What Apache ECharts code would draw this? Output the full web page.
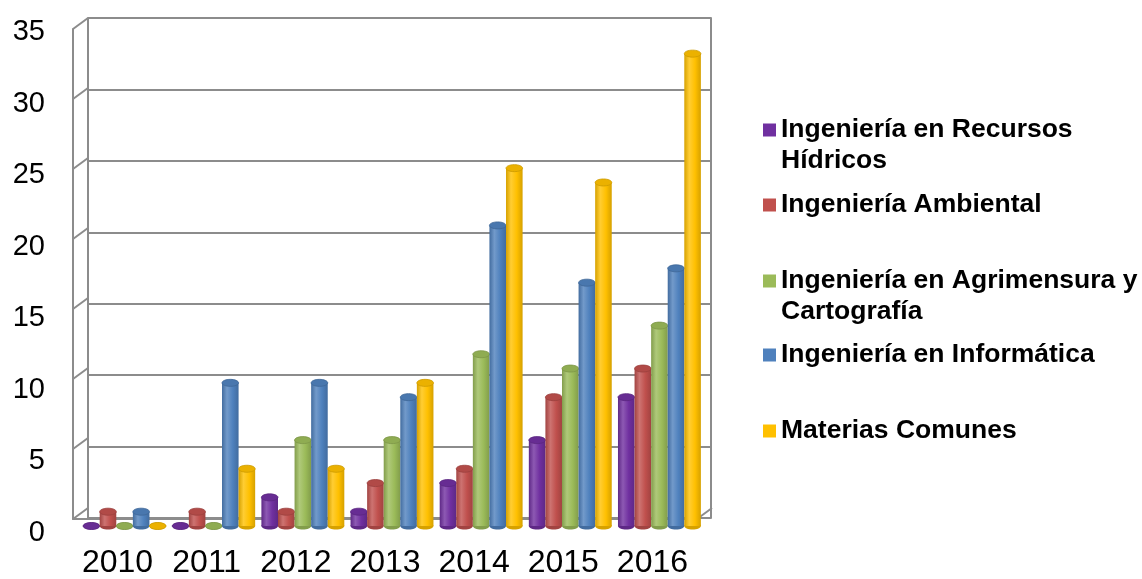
<!DOCTYPE html>
<html><head><meta charset="utf-8">
<script src="https://cdn.jsdelivr.net/npm/echarts@6/dist/echarts.min.js"></script>
<style>html,body{margin:0;padding:0;background:#fff}#c{width:1142px;height:579px}</style>
</head><body><div id="c"></div>
<script>
const years = ['2010','2011','2012','2013','2014','2015','2016'];
const seriesNames = ['Ingeniería en Recursos Hídricos','Ingeniería Ambiental','Ingeniería en Agrimensura y Cartografía','Ingeniería en Informática','Materias Comunes'];
const recursosHidricos = [0,0,2,1,3,6,9];
const ambiental = [1,1,1,3,4,9,11];
const agrimensura = [0,0,6,6,12,11,14];
const informatica = [1,10,10,9,21,17,18];
const materiasComunes = [0,4,4,10,25,24,33];
const yTicks = [0,5,10,15,20,25,30,35];
const legendLabels = ['\nIngeniería en Recursos\nHídricos','Ingeniería Ambiental','\nIngeniería en Agrimensura y\nCartografía','Ingeniería en Informática','Materias Comunes'];

const allValues = [recursosHidricos, ambiental, agrimensura, informatica, materiasComunes];
const colors = ['#7030A0','#C0504D','#9BBB59','#4F81BD','#FFC000'];
const FONT = "'Liberation Sans', Arial, sans-serif";
const GRAY = '#8c8c8c';

function shade(hex, f) {
  const n = parseInt(hex.slice(1), 16);
  let r = n >> 16, g = (n >> 8) & 255, b = n & 255;
  if (f < 0) { r = r * (1 + f); g = g * (1 + f); b = b * (1 + f); }
  else { r = r + (255 - r) * f; g = g + (255 - g) * f; b = b + (255 - b) * f; }
  return 'rgb(' + Math.round(r) + ',' + Math.round(g) + ',' + Math.round(b) + ')';
}

function makeBarRender(si) {
  const c = colors[si];
  const dark = shade(c, -0.16), light = shade(c, 0.2), mid = c;
  return function (params, api) {
    const cat = api.value(0), v = api.value(1);
    const top = api.coord([cat, v]);
    const base = api.coord([cat, 0]);
    const W = api.size([1, 0])[0];
    const gw = W * 0.93, bw = gw / 5;
    const cx = top[0] - gw / 2 + bw * (si + 0.5);
    const rx = bw / 2, ry = 3.5;
    const grad = {type: 'linear', x: 0, y: 0, x2: 1, y2: 0, colorStops: [
      {offset: 0, color: dark}, {offset: 0.3, color: light}, {offset: 0.65, color: mid}, {offset: 1, color: dark}]};
    return {type: 'group', children: [
      {type: 'ellipse', shape: {cx: cx, cy: base[1], rx: rx, ry: ry}, style: {fill: dark}},
      {type: 'rect', shape: {x: cx - rx, y: top[1], width: bw, height: Math.max(0, base[1] - top[1])}, style: {fill: grad}},
      {type: 'ellipse', shape: {cx: cx, cy: top[1], rx: rx, ry: ry}, style: {fill: shade(c, -0.08), stroke: shade(c, -0.2), lineWidth: 0.8}}
    ]};
  };
}

const series = [];
// back-wall / floor connectors on the front grid
series.push({
  type: 'custom', xAxisIndex: 1, yAxisIndex: 1, silent: true, clip: false, z: 1,
  data: yTicks.map(v => [0, v]),
  renderItem: function (params, api) {
    const y = api.coord([0, api.value(1)])[1];
    const x0 = params.coordSys.x;
    const kids = [{type: 'line', shape: {x1: x0, y1: y, x2: x0 + 15, y2: y - 11}, style: {stroke: GRAY, lineWidth: 2}}];
    if (api.value(1) === 0) {
      const x1 = params.coordSys.x + params.coordSys.width;
      kids.push({type: 'line', shape: {x1: x1, y1: y, x2: x1 + 15, y2: y - 11}, style: {stroke: GRAY, lineWidth: 2}});
    }
    return {type: 'group', children: kids};
  }
});
allValues.forEach((vals, si) => {
  series.push({
    name: seriesNames[si], type: 'custom', xAxisIndex: 2, yAxisIndex: 2, z: 5,
    itemStyle: {color: colors[si]},
    data: vals.map((v, i) => [i, v]),
    encode: {x: 0, y: 1},
    renderItem: makeBarRender(si)
  });
});

const legendTops = [83.5, 189.5, 234.5, 339.5, 415.5];
const legends = seriesNames.map((n, i) => ({
  data: [{name: n, icon: 'rect', itemStyle: {color: colors[i]}}],
  orient: 'vertical', left: 763, top: legendTops[i], padding: 0,
  itemWidth: 13, itemHeight: 13, selectedMode: false,
  formatter: function () { return legendLabels[i]; },
  textStyle: {fontFamily: FONT, fontSize: 26.5, fontWeight: 'bold', color: '#000', lineHeight: 31}
}));

const option = {
  animation: false,
  backgroundColor: '#fff',
  legend: legends,
  grid: [
    {left: 88, top: 18, width: 623, height: 500},
    {left: 73, top: 29, width: 624, height: 501},
    {left: 80, top: 25, width: 624, height: 501},
    {left: 73, top: 32, width: 624, height: 501}
  ],
  xAxis: [
    {gridIndex: 0, type: 'category', data: years, show: false},
    {gridIndex: 1, type: 'category', data: years,
     axisLine: {show: true, lineStyle: {color: GRAY, width: 2}}, axisTick: {show: false},
     axisLabel: {color: '#000', fontFamily: FONT, fontSize: 32, margin: 28, interval: 0, hideOverlap: false}},
    {gridIndex: 2, type: 'category', data: years, show: false},
    {gridIndex: 3, type: 'category', data: years, show: false}
  ],
  yAxis: [
    {gridIndex: 0, type: 'value', min: 0, max: 35, interval: 5,
     axisLine: {show: true, lineStyle: {color: GRAY, width: 2}}, axisTick: {show: false}, axisLabel: {show: false},
     splitLine: {show: true, lineStyle: {color: GRAY, width: 2}}},
    {gridIndex: 1, type: 'value', min: 0, max: 35, interval: 5,
     axisLine: {show: true, lineStyle: {color: GRAY, width: 2}}, axisTick: {show: false},
     axisLabel: {show: false}, splitLine: {show: false}},
    {gridIndex: 2, type: 'value', min: 0, max: 35, interval: 5, show: false, splitLine: {show: false}},
    {gridIndex: 0, type: 'value', min: 0, max: 35, interval: 5, position: 'right',
     axisLine: {show: true, lineStyle: {color: GRAY, width: 2}}, axisTick: {show: false}, axisLabel: {show: false},
     splitLine: {show: false}},
    {gridIndex: 3, type: 'value', min: 0, max: 35, interval: 5,
     axisLine: {show: false}, axisTick: {show: false}, splitLine: {show: false},
     axisLabel: {color: '#000', fontFamily: FONT, fontSize: 29, margin: 28}}
  ],
  series: series
};
const chart = echarts.init(document.getElementById('c'));
chart.setOption(option);
</script></body></html>
